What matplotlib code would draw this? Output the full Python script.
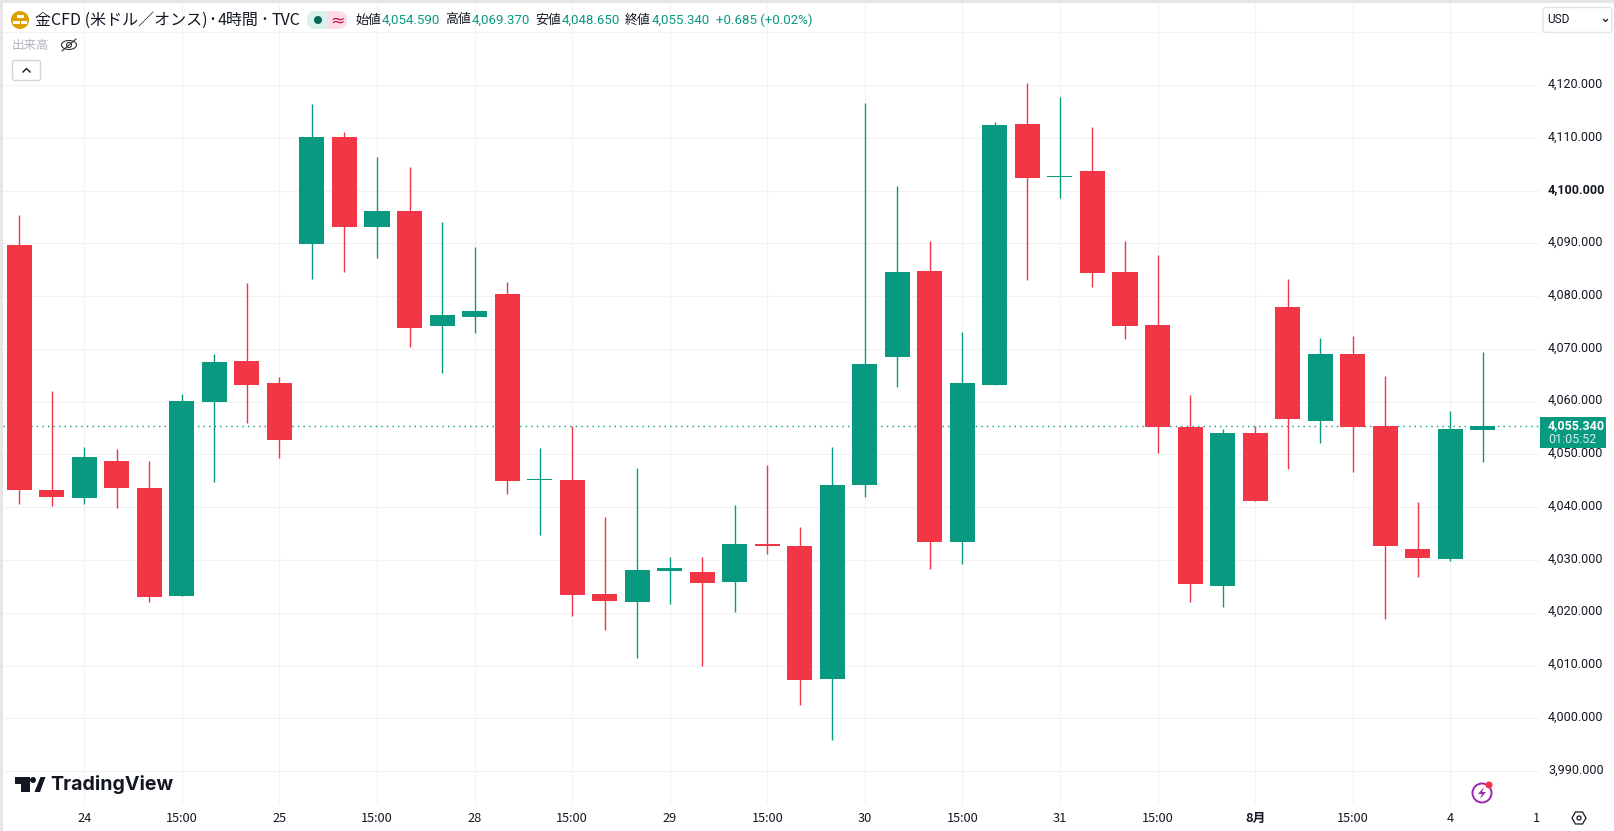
import matplotlib
matplotlib.use("Agg")
import matplotlib.pyplot as plt
from matplotlib.patches import Circle, Polygon, Rectangle, FancyBboxPatch, Ellipse

plt.rcParams['font.family'] = ['Noto Sans CJK JP', 'DejaVu Sans']

# OHLC, 4 hour candles
opens = [4089.7, 4043.2, 4041.7, 4048.7, 4043.7, 4023.2, 4059.9, 4067.7, 4063.6, 4089.9, 4110.1, 4093.1,
         4096.2, 4074.3, 4076.1, 4080.4, 4045.2, 4045.1, 4023.6, 4022.0, 4027.9, 4027.7, 4025.9, 4033.1,
         4032.7, 4007.4, 4044.3, 4068.5, 4084.7, 4033.5, 4063.2, 4112.6, 4102.5, 4103.8, 4084.5, 4074.5,
         4055.2, 4025.1, 4054.0, 4078.0, 4056.4, 4069.1, 4055.4, 4032.0, 4030.2, 4054.59]
highs = [4095.4, 4062.0, 4051.5, 4051.1, 4048.7, 4061.4, 4069.1, 4082.5, 4064.6, 4116.5, 4111.2, 4106.3,
         4104.4, 4094.0, 4089.4, 4082.7, 4051.3, 4055.4, 4038.2, 4047.4, 4030.6, 4030.6, 4040.4, 4048.0,
         4036.3, 4051.5, 4116.7, 4100.9, 4090.5, 4073.2, 4113.0, 4120.4, 4117.7, 4112.0, 4090.5, 4087.8,
         4061.2, 4054.8, 4055.4, 4083.3, 4072.0, 4072.4, 4064.8, 4041.0, 4058.3, 4069.37]
lows = [4040.6, 4040.2, 4040.7, 4039.8, 4022.0, 4023.2, 4044.7, 4056.0, 4049.3, 4083.3, 4084.5, 4087.2,
        4070.4, 4065.4, 4073.0, 4042.5, 4034.7, 4019.3, 4016.7, 4011.5, 4021.6, 4009.9, 4020.2, 4031.2,
        4002.5, 3995.9, 4041.9, 4062.8, 4028.2, 4029.2, 4063.2, 4083.1, 4098.7, 4081.7, 4071.8, 4050.3,
        4022.0, 4021.0, 4041.1, 4047.2, 4052.1, 4046.6, 4018.9, 4026.7, 4029.8, 4048.65]
closes = [4043.2, 4041.9, 4049.5, 4043.7, 4023.0, 4060.1, 4067.5, 4063.2, 4052.7, 4110.2, 4093.1, 4096.2,
          4073.9, 4076.5, 4077.2, 4044.9, 4045.4, 4023.4, 4022.2, 4028.1, 4028.5, 4025.7, 4033.1, 4032.6,
          4007.2, 4044.3, 4067.1, 4084.5, 4033.5, 4063.6, 4112.4, 4102.4, 4102.8, 4084.3, 4074.3, 4055.2,
          4025.5, 4054.0, 4041.1, 4056.8, 4069.1, 4055.2, 4032.6, 4030.4, 4054.8, 4055.34]
last_price = 4055.34

y_ticks = [3990, 4000, 4010, 4020, 4030, 4040, 4050, 4060, 4070, 4080, 4090, 4100, 4110, 4120]
grid_top = 4130  # this line has no label, the USD button sits there
x_tick_pos = [2, 5, 8, 11, 14, 17, 20, 23, 26, 29, 32, 35, 38, 41, 44]
x_tick_labels = ['24', '15:00', '25', '15:00', '28', '15:00', '29', '15:00', '30', '15:00', '31', '15:00',
                 '8月', '15:00', '4']

GREEN = '#089981'
RED = '#F23645'
GRID = '#F2F2F2'
TEXT = '#131722'
W, H = 1614, 831

fig = plt.figure(figsize=(W / 100, H / 100), dpi=100, facecolor='white')
ax = fig.add_axes([3 / W, (H - 805) / H, 1536 / W, 802 / H])
ax.set_xlim(-0.50, 46.73)
ax.set_ylim(3983.56, 4135.57)
for s in ax.spines.values():
    s.set_visible(False)
ax.tick_params(left=False, bottom=False, labelleft=False, labelbottom=False)
ax.set_xticks(x_tick_pos)
ax.set_yticks(y_ticks + [grid_top])
ax.grid(True, color=GRID, lw=0.8)
ax.set_axisbelow(True)

# candles
for i in range(len(opens)):
    up = closes[i] >= opens[i]
    c = GREEN if up else RED
    ax.vlines(i, lows[i], highs[i], color=c, lw=1.0, zorder=2)
    bottom = min(opens[i], closes[i])
    height = max(abs(closes[i] - opens[i]), 0.2)  # dojis still need a visible line
    ax.bar(i, height, bottom=bottom, width=0.77, color=c, lw=0, zorder=3)

ax.axhline(last_price, color=GREEN, lw=1, ls=(0, (1, 3)), zorder=1)


# overlay in pixel coordinates of the screenshot
ov = fig.add_axes([0, 0, 1, 1], facecolor='none')
ov.set_xlim(0, W)
ov.set_ylim(H, 0)
ov.axis('off')

ov.add_patch(Rectangle((0, 0), W, 3, color='#E6E6E6', lw=0))
ov.add_patch(Rectangle((0, 0), 3, H, color='#E6E6E6', lw=0))


def px_y(v):
    return ax.transData.transform((0, v))[1]


# price scale
for v in y_ticks:
    y = H - px_y(v) - 1
    ov.text(1548, y, f'{v:,}.000', fontsize=9, color=TEXT, va='center', ha='left', family='Roboto',
            fontweight='bold' if v == 4100 else 'normal')
y_last = H - px_y(last_price)
ov.add_patch(Rectangle((1540, y_last - 9), 66, 31, color=GREEN, lw=0, zorder=5))
ov.text(1548, y_last - 0.5, f'{last_price:,.3f}', fontsize=9, color='white', va='center', family='Roboto',
        fontweight='bold', zorder=6)
ov.text(1548, y_last + 13.5, '01:05:52', fontsize=9, color='#D5EEEA', va='center', family='Roboto', zorder=6)

# time scale
for p, lab in zip(x_tick_pos, x_tick_labels):
    x = ax.transData.transform((p, 0))[0]
    ov.text(x, 818, lab, fontsize=9.2, color=TEXT, ha='center', va='center',
            fontweight='bold' if lab == '8月' else 'normal')
ov.text(1536, 818, '1', fontsize=9.2, color=TEXT, ha='center', va='center')

# header
ov.add_patch(Circle((20, 20), 9, color='#DF9F00', lw=0))
ov.add_patch(Rectangle((16.5, 15), 7, 3, color='white', lw=0))
ov.add_patch(Rectangle((13, 20.5), 6.5, 3, color='white', lw=0))
ov.add_patch(Rectangle((20.5, 20.5), 6.5, 3, color='white', lw=0))
ov.text(35, 20.5, '金CFD (米ドル／オンス)', fontsize=11.5, color=TEXT, va='center')
ov.text(212, 20.5, '･', fontsize=11.5, color=TEXT, va='center', ha='center')
ov.text(218, 20.5, '4時間', fontsize=11.5, color=TEXT, va='center')
ov.text(264, 20.5, '･', fontsize=11.5, color=TEXT, va='center', ha='center')
ov.text(272, 20.5, 'TVC', fontsize=11.5, color=TEXT, va='center')
ov.add_patch(FancyBboxPatch((307, 11), 30, 18, boxstyle='round,pad=0,rounding_size=8', color='#DAF1EE', lw=0))
ov.add_patch(FancyBboxPatch((317, 11), 30, 18, boxstyle='round,pad=0,rounding_size=8', color='#FCDCE6', lw=0))
ov.add_patch(Rectangle((317, 11), 10, 18, color='#DAF1EE', lw=0))
ov.add_patch(Circle((318, 20), 4, color='#06695A', lw=0))
ov.text(337, 20, '≈', fontsize=12.5, color='#C2185B', ha='center', va='center', family='DejaVu Sans')

hdr = [(355, '始値', 382, '4,054.590'), (445, '高値', 472, '4,069.370'), (535, '安値', 562, '4,048.650'),
       (625, '終値', 652, '4,055.340')]
for x1, lab, x2, val in hdr:
    ov.text(x1, 20, lab, fontsize=9.3, color=TEXT, va='center')
    ov.text(x2, 20, val, fontsize=9.5, color=GREEN, va='center', family='Roboto')
ov.text(716, 20, '+0.685 (+0.02%)', fontsize=9.5, color=GREEN, va='center', family='Roboto')

ov.text(12, 46, '出来高', fontsize=9, color='#B2B5BE', va='center')
ov.add_patch(Ellipse((69, 45), 15, 9, fill=False, ec='#333333', lw=0.8))
ov.add_patch(Circle((69, 45), 2.5, fill=False, ec='#333333', lw=0.8))
ov.plot([62, 76], [51, 39], color='#333333', lw=0.8)
ov.add_patch(FancyBboxPatch((12.5, 60.5), 28, 20, boxstyle='round,pad=0,rounding_size=2', fc='white', ec='#D1D4DC', lw=1))
ov.plot([23, 26.5, 30], [72, 68.5, 72], color=TEXT, lw=1)

ov.add_patch(FancyBboxPatch((1543, 7.5), 69, 25, boxstyle='round,pad=0,rounding_size=3', fc='white', ec='#E0E3EB', lw=1))
ov.text(1547, 19.5, 'USD', fontsize=8.6, color=TEXT, va='center', family='Roboto')
ov.plot([1603.5, 1605.5, 1607.5], [19.5, 21.5, 19.5], color=TEXT, lw=0.9)

# TradingView logo
ov.add_patch(Polygon([(15, 777), (30, 777), (30, 792), (21, 792), (21, 784), (15, 784)], color='#131722', lw=0))
ov.add_patch(Circle((33, 780), 3, color='#131722', lw=0))
ov.add_patch(Polygon([(40.5, 777), (45.5, 777), (40, 792), (34.5, 792)], color='#131722', lw=0))
ov.text(50.5, 784, 'TradingView', fontsize=14.1, fontweight='bold', color='#131722', va='center', family='Inter')

# lightning badge
ov.add_patch(Circle((1482, 793), 9.5, fill=False, ec='#9C27B0', lw=1.4))
ov.add_patch(Polygon([(1484, 787), (1478, 794), (1482, 794), (1480, 799), (1486, 792), (1482, 792)], color='#9C27B0', lw=0))
ov.add_patch(Circle((1489, 785), 3.5, color=RED, lw=0))

# settings hexagon
ov.add_patch(Polygon([(1572, 818), (1575.5, 812), (1582.5, 812), (1586, 818), (1582.5, 824), (1575.5, 824)],
                     fill=False, ec=TEXT, lw=0.9))
ov.add_patch(Circle((1579, 818), 2, fill=False, ec=TEXT, lw=0.9))

fig.savefig('out.png', dpi=100)
